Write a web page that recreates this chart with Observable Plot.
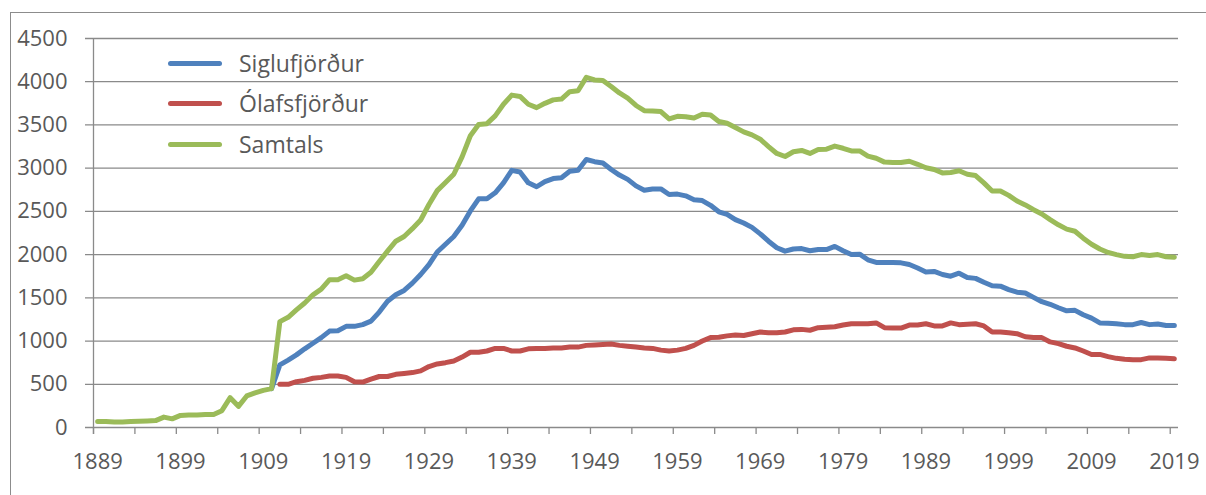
<!DOCTYPE html>
<html><head><meta charset="utf-8">
<script src="https://cdn.jsdelivr.net/npm/d3@7"></script>
<script src="https://cdn.jsdelivr.net/npm/@observablehq/plot@0.6"></script>
<style>
html,body{margin:0;padding:0;background:#fff;width:1206px;height:495px;overflow:hidden;}
#wrap{position:relative;width:1206px;height:495px;font-family:"Open Sans",sans-serif;overflow:hidden;}
#border{position:absolute;left:10px;top:12px;width:1400px;height:700px;border:1px solid #8c8c8c;}
#chart{position:absolute;left:0;top:0;}
.leg{position:absolute;left:168px;height:30px;display:flex;align-items:center;color:#595959;font-size:23px;white-space:nowrap;}
.sw{width:54px;height:5px;border-radius:3px;margin-right:17px;}
</style>
</head><body>
<div id="wrap"><div id="border"></div><div id="chart"></div><div id="legend"></div></div>
<script>
const seriesNames = ["Siglufjörður", "Ólafsfjörður", "Samtals"];
const seriesColors = ["#4f81bd", "#c0504d", "#9bbb59"];

// Samtals, 1889–2019
const samtalsFrom = 1889;
const samtals = [
  70,70,65,65,70,72,75,80,120,100,
  140,145,145,150,150,195,345,245,365,400,
  430,450,1225,1275,1360,1440,1535,1600,1710,1710,
  1755,1705,1720,1795,1920,2040,2155,2210,2300,2400,
  2580,2740,2835,2930,3130,3375,3505,3515,3605,3740,
  3845,3830,3740,3700,3750,3790,3800,3885,3895,4050,
  4020,4015,3945,3870,3810,3725,3665,3660,3655,3570,
  3600,3595,3580,3625,3615,3540,3520,3470,3420,3385,
  3335,3250,3170,3135,3190,3205,3170,3215,3220,3255,
  3230,3200,3200,3140,3115,3070,3065,3065,3080,3045,
  3005,2985,2945,2950,2970,2930,2915,2830,2735,2735,
  2685,2620,2575,2520,2470,2405,2345,2295,2270,2190,
  2120,2065,2025,2000,1980,1975,2000,1990,2000,1975,
  1970
];

// Siglufjörður, 1910–2019
const sigluFrom = 1910;
const siglufjordur = [
  450,725,780,840,910,975,1040,1115,1120,1170,
  1170,1190,1230,1335,1460,1535,1585,1670,1770,1885,
  2030,2120,2210,2340,2505,2645,2645,2715,2830,2975,
  2955,2830,2785,2845,2880,2890,2965,2975,3100,3075,
  3060,2985,2920,2870,2795,2745,2760,2760,2695,2700,
  2680,2635,2625,2570,2495,2465,2405,2365,2315,2240,
  2155,2080,2040,2065,2070,2045,2060,2058,2095,2045,
  2000,2005,1940,1910,1910,1910,1905,1885,1845,1800,
  1805,1770,1750,1785,1735,1725,1680,1640,1635,1595,
  1565,1555,1505,1455,1425,1385,1350,1355,1305,1265,
  1210,1205,1200,1190,1190,1215,1190,1198,1180,1180
];

// Ólafsfjörður, 1911–2019
const olafsFrom = 1911;
const olafsfjordur = [
  500,500,530,545,570,580,595,595,580,530,
  525,560,590,590,615,625,635,655,705,735,
  750,770,815,870,870,885,915,915,885,885,
  910,915,915,920,920,930,930,950,955,960,
  965,950,940,930,920,915,895,885,895,915,
  950,1000,1040,1045,1060,1070,1065,1085,1105,1095,
  1095,1105,1130,1135,1125,1155,1160,1165,1185,1200,
  1200,1200,1210,1155,1150,1150,1185,1185,1200,1175,
  1175,1210,1190,1195,1200,1175,1105,1105,1095,1085,
  1050,1040,1040,990,970,940,920,885,845,845,
  820,800,790,785,785,805,805,800,795
];

const yTicks = [0,500,1000,1500,2000,2500,3000,3500,4000,4500];
const xLabels = [1889,1899,1909,1919,1929,1939,1949,1959,1969,1979,1989,1999,2009,2019];

const rows = (arr, from) => arr.map((v, i) => ({year: from + i, value: v}));
const dSiglu = rows(siglufjordur, sigluFrom);
const dOlafs = rows(olafsfjordur, olafsFrom);
const dSamt = rows(samtals, samtalsFrom);

// tick marks sit on category boundaries, every 5 categories
const xTickMarks = [];
xLabels.forEach(y => { xTickMarks.push(y - 0.5); if (y + 4.5 < 2019.5) xTickMarks.push(y + 4.5); });

const chart = Plot.plot({
  width: 1206, height: 495,
  marginLeft: 93, marginRight: 28, marginTop: 38, marginBottom: 68,
  style: {fontFamily: "'Open Sans', sans-serif", fontSize: "22px", color: "#595959", background: "transparent", overflow: "visible"},
  x: {domain: [1888.5, 2019.5], label: null},
  y: {domain: [0, 4500], label: null},
  marks: [
    Plot.gridY(yTicks, {stroke: "#8a8a8a", strokeOpacity: 1, strokeWidth: 1.3, insetLeft: -8}),
    Plot.axisY(yTicks, {tickSize: 0, tickPadding: 26, fill: "#595959", label: null, tickFormat: d => String(d)}),
    Plot.ruleX([1888.5], {stroke: "#8a8a8a", strokeWidth: 1.3, insetBottom: -7}),
    Plot.ruleX(xTickMarks, {y1: 0, y2: 0, insetBottom: -7, stroke: "#8a8a8a", strokeWidth: 1.3}),
    Plot.axisX(xLabels, {tickSize: 0, tickPadding: 26, fill: "#595959", label: null, tickFormat: d => String(d)}),
    Plot.line(dSiglu, {x: "year", y: "value", stroke: seriesColors[0], strokeWidth: 5, strokeLinejoin: "round", strokeLinecap: "round"}),
    Plot.line(dOlafs, {x: "year", y: "value", stroke: seriesColors[1], strokeWidth: 5, strokeLinejoin: "round", strokeLinecap: "round"}),
    Plot.line(dSamt, {x: "year", y: "value", stroke: seriesColors[2], strokeWidth: 5, strokeLinejoin: "round", strokeLinecap: "round"})
  ]
});
document.getElementById("chart").appendChild(chart);

const legendTops = [48, 88, 129];
const legend = document.getElementById("legend");
seriesNames.forEach((name, i) => {
  const item = document.createElement("div");
  item.className = "leg";
  item.style.top = legendTops[i] + "px";
  const sw = document.createElement("div");
  sw.className = "sw";
  sw.style.background = seriesColors[i];
  const tx = document.createElement("span");
  tx.textContent = name;
  item.appendChild(sw); item.appendChild(tx);
  legend.appendChild(item);
});
</script>
</body></html>
